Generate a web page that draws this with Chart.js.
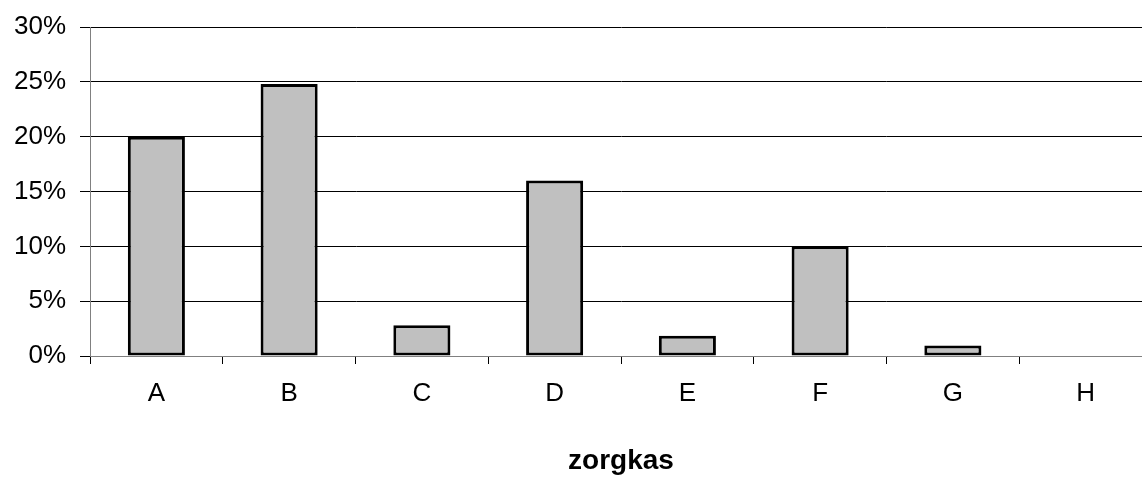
<!DOCTYPE html>
<html>
<head>
<meta charset="UTF-8">
<title>zorgkas</title>
<script src="https://cdn.jsdelivr.net/npm/chart.js"></script>
<style>
  html, body { margin: 0; padding: 0; background: #fff; overflow: hidden; }
  #wrap { width: 1152px; height: 478px; }
</style>
</head>
<body>
<div id="wrap"><canvas id="chart" width="1152" height="478"></canvas></div>
<script>
    // categories and values (percent)
    var categories = ["A", "B", "C", "D", "E", "F", "G", "H"];
    var values = [20, 24.8, 2.8, 16, 1.85, 10, 0.95, 0];
    var yTicks = [0, 5, 10, 15, 20, 25, 30];
    var axisTitle = "zorgkas";

    var font = "'Liberation Sans', Arial, sans-serif";

    new Chart(document.getElementById("chart"), {
        type: "bar",
        data: {
            labels: categories,
            datasets: [{
                data: values,
                backgroundColor: "#c0c0c0",
                borderColor: "#000000",
                borderWidth: 3,
                borderSkipped: false,
                barPercentage: 0.43,
                categoryPercentage: 1
            }]
        },
        options: {
            responsive: false,
            animation: false,
            layout: { padding: { top: 0, right: 0, left: 0, bottom: 0 } },
            plugins: {
                legend: { display: false },
                tooltip: { enabled: false }
            },
            scales: {
                x: {
                    grid: {
                        offset: true,
                        drawOnChartArea: false,
                        drawTicks: true,
                        tickLength: 8,
                        color: "#000000"
                    },
                    border: { color: "#808080", width: 1 },
                    ticks: { color: "#000", padding: 14, font: { family: font, size: 26 } },
                    title: {
                        display: true,
                        text: axisTitle,
                        color: "#000",
                        padding: { top: 26, bottom: 0 },
                        font: { family: font, size: 28, weight: "bold" }
                    },
                    afterFit: function (axis) { axis.height = 122; }
                },
                y: {
                    min: 0,
                    max: 30,
                    afterBuildTicks: function (axis) {
                        axis.ticks = yTicks.map(function (v) { return { value: v }; });
                    },
                    grid: {
                        color: "#000000",
                        lineWidth: 1,
                        tickLength: 10,
                        drawTicks: true
                    },
                    border: { color: "#808080", width: 1 },
                    ticks: {
                        color: "#000",
                        padding: 14,
                        font: { family: font, size: 26, lineHeight: 1.0 },
                        callback: function (v) { return v + "%"; }
                    },
                    afterFit: function (axis) {
                        axis.width = 90;
                        axis.paddingTop = 27;
                    }
                }
            }
        }
    });
</script>
</body>
</html>
